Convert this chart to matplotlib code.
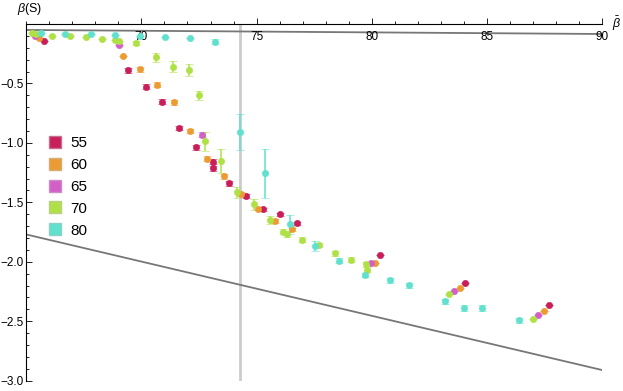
import matplotlib
matplotlib.use("Agg")
import matplotlib.pyplot as plt
from matplotlib.lines import Line2D
from matplotlib.ticker import MultipleLocator, FuncFormatter

plt.rcParams['font.family'] = ['Liberation Sans', 'DejaVu Sans']
plt.rcParams['mathtext.fontset'] = 'custom'
plt.rcParams['mathtext.rm'] = 'Liberation Sans'
plt.rcParams['mathtext.it'] = 'Liberation Sans:italic'

# Data
labels = ["55", "60", "65", "70", "80"]
colors = ["#C81E5A", "#EB9B32", "#D25FC8", "#AFE146", "#5FE1CD"]

beta_55 = [65.77, 69.41, 70.19, 70.88, 71.62, 72.36, 73.10, 73.10, 73.79, 74.53,
           75.27, 76.00, 76.74, 80.38, 84.07, 87.71]
s_55 = [-0.142, -0.391, -0.526, -0.654, -0.874, -1.037, -1.157, -1.215, -1.341, -1.446,
        -1.559, -1.601, -1.676, -1.945, -2.177, -2.364]
err_55 = [0, 0.02, 0.02, 0.02, 0.02, 0.02, 0.02, 0.02, 0.02, 0.018,
          0.015, 0.015, 0.015, 0, 0, 0]

beta_60 = [65.56, 69.21, 69.94, 70.68, 71.42, 72.13, 72.86, 73.59, 74.33, 75.06,
           75.78, 76.55, 80.16, 83.82, 87.48]
s_60 = [-0.120, -0.266, -0.381, -0.511, -0.660, -0.899, -1.132, -1.282, -1.427, -1.553,
        -1.657, -1.727, -2.009, -2.219, -2.417]
err_60 = [0, 0, 0.02, 0.02, 0.02, 0.02, 0.02, 0.02, 0.018, 0.015,
          0.015, 0.015, 0, 0, 0]

beta_65 = [65.39, 69.03, 72.65, 79.95, 83.58, 87.20]
s_65 = [-0.105, -0.176, -0.930, -2.009, -2.249, -2.448]
err_65 = [0, 0, 0.022, 0, 0, 0]

beta_70 = [65.23, 65.42, 66.13, 66.88, 67.59, 68.30, 68.85, 69.02, 69.76, 70.65,
           71.36, 72.07, 72.49, 72.78, 73.46, 74.17, 74.89, 75.59, 76.13, 76.31,
           76.99, 77.69, 78.39, 79.08, 79.73, 79.80, 83.37, 86.99]
s_70 = [-0.078, -0.086, -0.101, -0.101, -0.109, -0.123, -0.134, -0.145, -0.162, -0.279,
        -0.358, -0.386, -0.601, -0.987, -1.154, -1.417, -1.517, -1.647, -1.748, -1.769,
        -1.813, -1.858, -1.928, -1.982, -2.020, -2.066, -2.269, -2.481]
err_70 = [0, 0, 0, 0, 0, 0, 0, 0, 0.018, 0.038,
          0.049, 0.052, 0.036, 0.080, 0.100, 0.050, 0.049, 0.032, 0.02, 0.02,
          0.02, 0.02, 0.02, 0.02, 0.02, 0.02, 0, 0]

beta_80 = [65.64, 66.70, 67.79, 68.87, 69.93, 71.03, 72.13, 73.19, 74.29, 75.35,
           76.46, 77.52, 78.56, 79.69, 80.78, 81.60, 83.20, 83.99, 84.79, 86.41]
s_80 = [-0.075, -0.080, -0.088, -0.091, -0.101, -0.109, -0.120, -0.148, -0.908, -1.257,
        -1.685, -1.869, -1.989, -2.110, -2.154, -2.198, -2.333, -2.391, -2.389, -2.492]
err_80 = [0, 0, 0, 0, 0, 0, 0, 0.021, 0.151, 0.209,
          0.078, 0.040, 0.02, 0.02, 0.02, 0.02, 0.02, 0.025, 0.025, 0.02]

series = [(beta_55, s_55, err_55), (beta_60, s_60, err_60), (beta_65, s_65, err_65),
          (beta_70, s_70, err_70), (beta_80, s_80, err_80)]

# reference lines
upper_line_x = [65, 90]
upper_line_y = [-0.050, -0.084]
lower_line_x = [65, 90]
lower_line_y = [-1.77, -2.91]
vline_x = 74.3


def lighten(hex_color, f):
    h = hex_color.lstrip("#")
    rgb = [int(h[i:i + 2], 16) / 255 for i in (0, 2, 4)]
    return tuple(c + (0.75 - c) * f for c in rgb)


fig = plt.figure(figsize=(6.23, 3.91), dpi=100)
ax = fig.add_axes([0.0422, 0.0263, 0.9241, 0.9123])

ax.plot([vline_x, vline_x], [0, -3], color="#cccccc", lw=2.0, zorder=1)
ax.plot(upper_line_x, upper_line_y, color="#777777", lw=1.3, zorder=1)
ax.plot(lower_line_x, lower_line_y, color="#777777", lw=1.3, zorder=1)

for (bx, sy, err), c in zip(series, colors):
    ax.errorbar(bx, sy, yerr=err, fmt="o", color=c, ecolor=c, ms=4.6,
                markeredgecolor=c, mew=0.4,
                elinewidth=1.1, capsize=2.6, capthick=1.1, zorder=3, clip_on=False)

ax.set_xlim(65, 90)
ax.set_ylim(-3, 0)

for side in ["right", "bottom"]:
    ax.spines[side].set_visible(False)
for side in ["left", "top"]:
    ax.spines[side].set_linewidth(0.8)

ax.xaxis.set_ticks_position("top")
ax.set_xticks([70, 75, 80, 85, 90])
ax.xaxis.set_minor_locator(MultipleLocator(1))
ax.tick_params(axis="x", which="major", direction="out", length=4, width=0.6,
               labelsize=8.5, pad=-18)
ax.tick_params(axis="x", which="minor", direction="out", length=2, width=0.6)

ax.set_yticks([-3.0, -2.5, -2.0, -1.5, -1.0, -0.5])
ax.yaxis.set_minor_locator(MultipleLocator(0.1))
ax.yaxis.set_major_formatter(FuncFormatter(lambda v, p: f"{v:.1f}".replace("-", "\u2212")))
ax.tick_params(axis="y", which="major", direction="in", length=4, width=0.6,
               labelsize=8.5, pad=2)
ax.tick_params(axis="y", which="minor", direction="in", length=2, width=0.6)

fig.text(17 / 623, 1 - 9 / 391, r"$\beta$(S)", ha="left", va="center", fontsize=9)
fig.text(617 / 623, 1 - 24 / 391, r"$\bar{\beta}$", ha="center", va="center", fontsize=9)

handles = [Line2D([], [], marker="s", ls="", ms=8.6, markerfacecolor=c,
                  markeredgecolor=lighten(c, 0.5), mew=1.0) for c in colors]
ax.legend(handles, labels, loc="upper left", bbox_to_anchor=(47 / 623, 1 - 136 / 391),
          bbox_transform=fig.transFigure, frameon=False, fontsize=11,
          handlelength=1.0, handletextpad=0.55, labelspacing=0.52, borderpad=0,
          borderaxespad=0)

fig.savefig("out.png", dpi=100)
